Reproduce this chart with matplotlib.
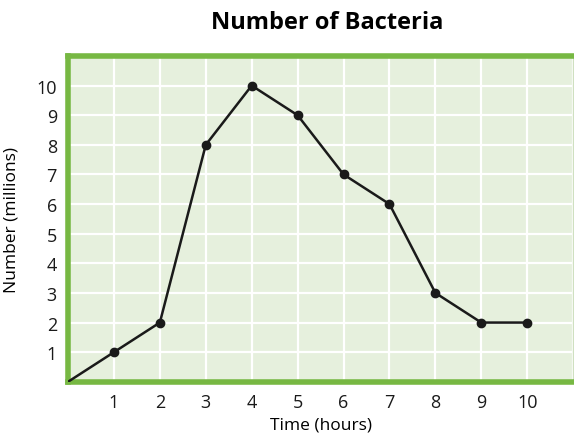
import matplotlib
matplotlib.use("Agg")
import matplotlib.pyplot as plt

hours = [0, 1, 2, 3, 4, 5, 6, 7, 8, 9, 10]
bacteria = [0, 1, 2, 8, 10, 9, 7, 6, 3, 2, 2]
x_ticks = [1, 2, 3, 4, 5, 6, 7, 8, 9, 10]
y_ticks = [1, 2, 3, 4, 5, 6, 7, 8, 9, 10]

plt.rcParams['font.family'] = ['Open Sans', 'DejaVu Sans']

fig = plt.figure(figsize=(5.74, 4.35), dpi=100)
ax = fig.add_axes([0.1185, 0.12, 0.88, 0.749])
ax.set_facecolor('#e6f0dd')

ax.plot(hours, bacteria, color='#1a1a1a', linewidth=1.8, zorder=3)
ax.plot(hours[1:], bacteria[1:], 'o', color='#1a1a1a', markersize=6, zorder=4)

ax.set_xlim(0, 11)
ax.set_ylim(0, 11)
ax.set_xticks(range(0, 12))
ax.set_xticklabels([''] + [str(t) for t in x_ticks] + [''])
ax.set_yticks(range(0, 12))
ax.set_yticklabels([''] + [str(t) for t in y_ticks] + [''])
ax.grid(True, color='white', linewidth=1.6)
ax.set_axisbelow(True)
ax.tick_params(length=0, labelsize=13, pad=8, colors='#1a1a1a')

for side in ['left', 'top', 'bottom']:
    ax.spines[side].set_color('#77b843')
    ax.spines[side].set_linewidth(4)
ax.spines['right'].set_color('#cfe0c0')
ax.spines['right'].set_linewidth(1)

ax.set_title("Number of Bacteria", fontsize=17, fontweight='bold', pad=20, x=0.513)
ax.set_xlabel("Time (hours)", fontsize=12.5, labelpad=4)
ax.set_ylabel("Number (millions)", fontsize=12.5, labelpad=12)

plt.savefig('out.png')
